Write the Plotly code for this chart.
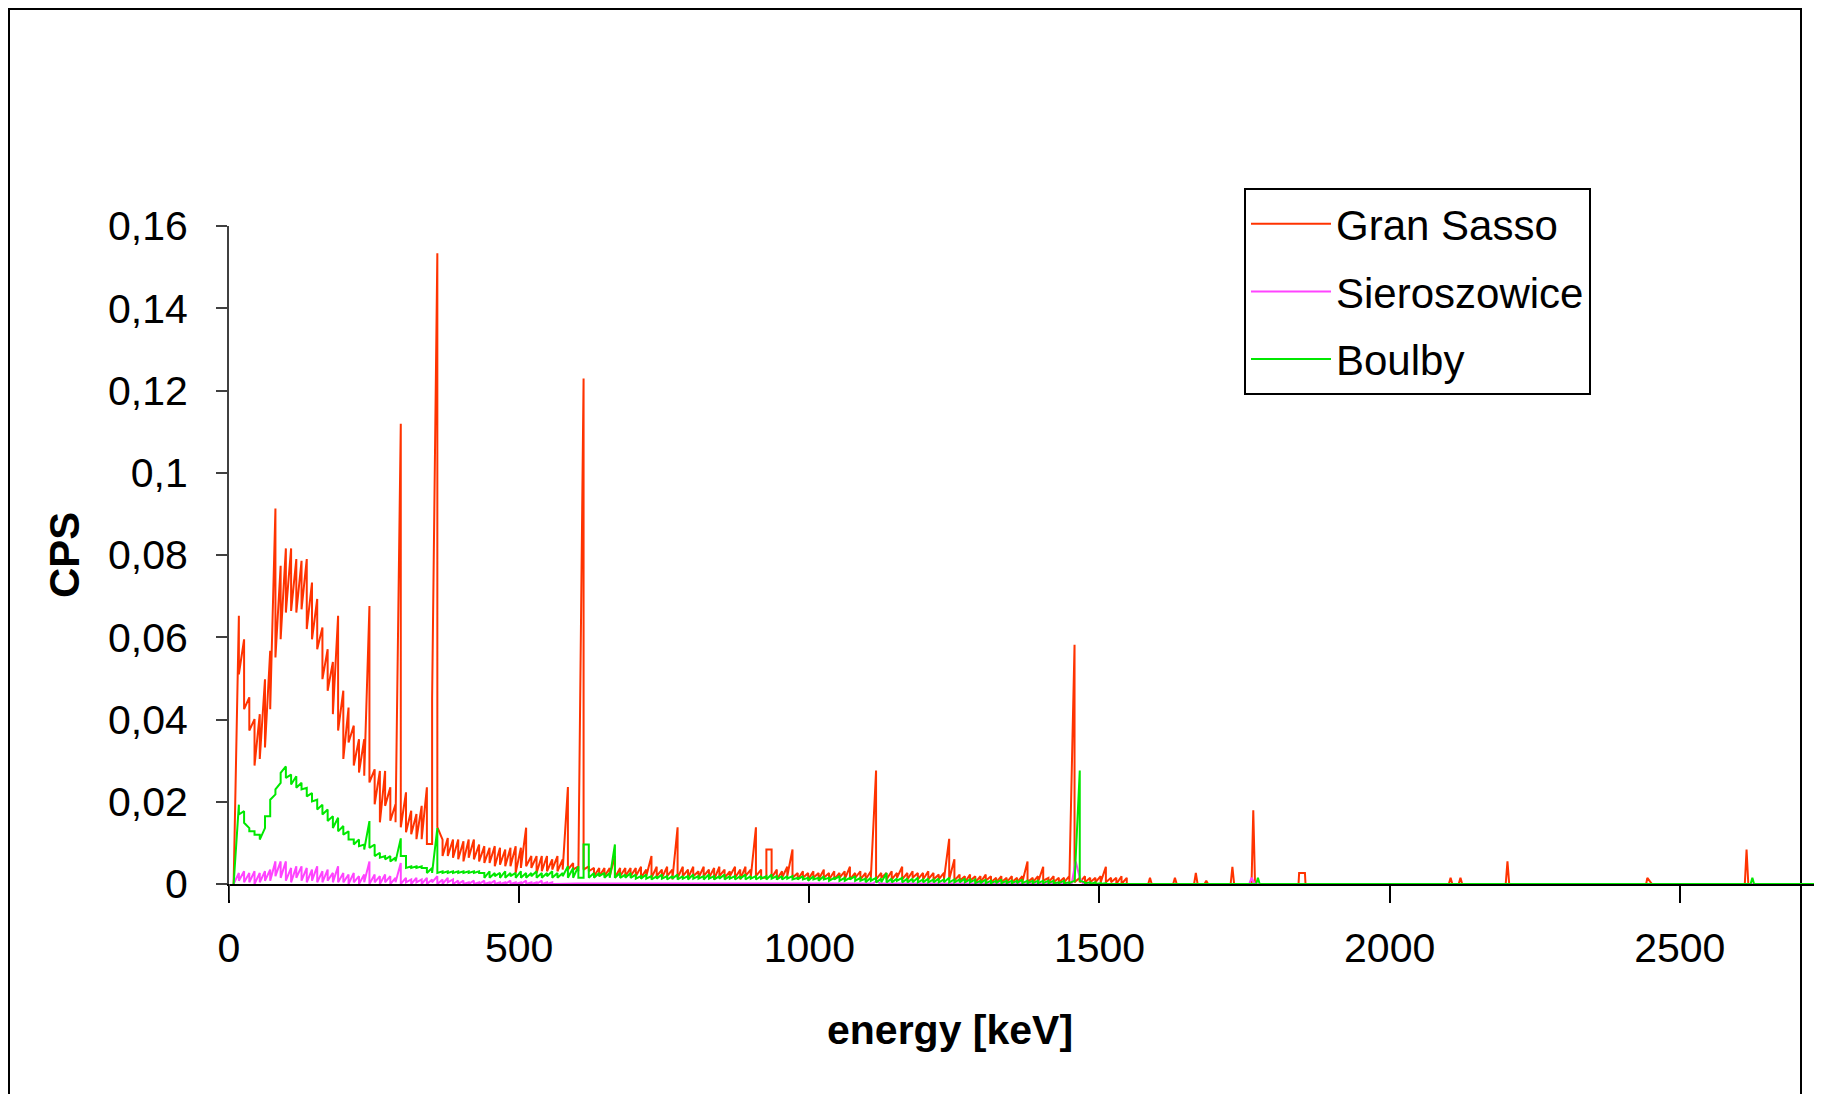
import plotly.graph_objects as go

# ---------------- data ----------------
# Spectra are stored as channel groups: group i sits at energy E_START + i*E_STEP (keV);
# each group holds two successive readings in units of 1e-4 CPS (path order).
E_START = 17.0
E_STEP = 9.0
UNIT = 1e-4

series_names = ["Gran Sasso", "Sieroszowice", "Boulby"]

gran_sasso_groups = [
    (652, 510), (595, 425), (454, 373), (401, 288), (413, 304), (498, 332), (567, 425), (913, 551),
    (774, 595), (816, 660), (816, 664), (790, 660), (786, 668), (790, 620), (733, 595), (693, 571),
    (624, 498), (571, 470), (540, 413), (652, 373), (470, 304), (429, 344), (385, 288), (352, 271),
    (352, 263), (676, 247), (279, 194), (275, 150), (275, 190), (235, 154), (194, 150), (1119, 138),
    (223, 126), (178, 121), (170, 109), (190, 109), (235, 97), (97, 450), (1534, 138), (108, 68),
    (112, 68), (108, 64), (108, 60), (104, 55), (108, 64), (108, 60), (96, 55), (92, 51),
    (88, 51), (92, 43), (88, 47), (84, 43), (88, 43), (92, 27), (88, 39), (137, 43),
    (68, 39), (68, 27), (68, 31), (68, 31), (60, 35), (68, 31), (60, 35), (236, 35),
    (51, 35), (43, 31), (1229, 35), (43, 31), (39, 19), (39, 19), (39, 19), (39, 19),
    (68, 15), (39, 19), (39, 19), (39, 19), (39, 19), (42, 15), (35, 19), (68, 15),
    (42, 19), (35, 15), (42, 19), (35, 11), (138, 15), (42, 19), (35, 15), (42, 19),
    (31, 15), (42, 19), (35, 15), (39, 11), (42, 19), (35, 15), (31, 19), (42, 15),
    (35, 11), (42, 19), (35, 15), (138, 19), (35, 15), (15, 84), (84, 15), (35, 11),
    (31, 15), (42, 19), (84, 15), (27, 11), (31, 15), (27, 11), (31, 15), (27, 11),
    (35, 15), (27, 11), (31, 11), (27, 15), (31, 11), (42, 11), (27, 15), (31, 11),
    (27, 11), (31, 15), (276, 11), (27, 15), (27, 11), (31, 11), (27, 15), (42, 11),
    (27, 11), (31, 15), (27, 11), (27, 11), (31, 11), (27, 11), (23, 11), (27, 11),
    (110, 11), (60, 8), (23, 8), (19, 4), (23, 8), (19, 4), (19, 4), (23, 8),
    (19, 4), (15, 4), (19, 4), (15, 4), (19, 4), (15, 4), (19, 4), (55, 4),
    (15, 4), (19, 4), (42, 8), (15, 4), (19, 4), (15, 4), (15, 4), (19, 4),
    (582, 4), (15, 4), (19, 4), (15, 4), (15, 4), (19, 4), (42, 4), (15, 4),
    (15, 0), (19, 0), (15, 0), (0, 0),
]
gran_sasso_tail_e = [1584, 1587, 1590, 1627, 1630, 1633, 1663, 1666, 1669, 1681, 1684, 1687,
                     1726, 1729, 1732, 1762, 1765, 1768, 1843, 1844, 1854, 1855,
                     2102, 2105, 2108, 2119, 2122, 2125, 2200, 2203, 2206,
                     2442, 2444, 2452, 2612, 2615, 2618, 2760]
gran_sasso_tail_v = [0, 15, 0, 0, 15, 0, 0, 27, 0, 0, 8, 0,
                     0, 42, 0, 0, 179, 0, 0, 27, 27, 0,
                     0, 15, 0, 0, 15, 0, 0, 55, 0,
                     0, 15, 0, 0, 84, 0, 0]

sieroszowice_groups = [
    (27, 8), (31, 4), (27, 4), (31, 0), (27, 4), (31, 8), (35, 8), (55, 19),
    (55, 15), (55, 8), (39, 4), (43, 15), (43, 8), (39, 4), (35, 8), (43, 4),
    (31, 4), (35, 8), (27, 4), (43, 4), (27, 4), (23, 0), (27, 4), (19, 0),
    (23, 4), (55, 0), (23, 4), (19, 0), (23, 4), (19, 0), (15, 4), (51, 0),
    (15, 4), (11, 0), (15, 4), (11, 0), (15, 0), (11, 4), (19, 0), (11, 0),
    (15, 4), (11, 0), (8, 0), (8, 0), (4, 0), (8, 0), (4, 0), (8, 0),
    (4, 0), (8, 0), (4, 0), (4, 0), (8, 0), (4, 0), (4, 0), (8, 0),
    (4, 0), (4, 0), (8, 0), (4, 0), (4, 0),
]
sieroszowice_tail_e = [600, 1110, 1116, 1122, 1452, 1459, 1466, 1472, 1758, 1762, 1768, 2760]
sieroszowice_tail_v = [1, 1, 8, 1, 1, 55, 15, 0, 0, 15, 0, 0]

boulby_groups = [
    (193, 169), (177, 149), (136, 128), (128, 120), (120, 108), (136, 165), (165, 205), (218, 230),
    (246, 270), (286, 258), (266, 242), (262, 234), (246, 230), (234, 213), (221, 201), (205, 181),
    (193, 169), (181, 153), (165, 136), (161, 128), (141, 120), (128, 108), (108, 96), (108, 92),
    (96, 84), (153, 88), (96, 68), (76, 64), (68, 60), (68, 55), (64, 55), (111, 68),
    (68, 39), (43, 39), (43, 39), (43, 39), (39, 27), (39, 27), (136, 27), (31, 27),
    (31, 27), (31, 27), (31, 27), (31, 27), (31, 27), (31, 27), (31, 27), (27, 15),
    (31, 15), (27, 19), (27, 15), (31, 15), (27, 19), (27, 15), (31, 15), (27, 15),
    (27, 19), (31, 15), (27, 15), (27, 19), (31, 15), (27, 15), (27, 19), (43, 15),
    (39, 15), (43, 15), (15, 96), (96, 15), (27, 15), (27, 19), (27, 15), (27, 15),
    (96, 15), (27, 15), (23, 15), (27, 15), (23, 13), (19, 13), (23, 13), (19, 11),
    (19, 13), (23, 13), (19, 11), (19, 13), (23, 11), (19, 13), (19, 11), (23, 13),
    (19, 13), (19, 11), (23, 13), (19, 11), (19, 13), (23, 11), (19, 13), (19, 11),
    (19, 13), (23, 11), (19, 13), (19, 11), (19, 13), (19, 11), (23, 13), (19, 11),
    (19, 11), (19, 13), (19, 11), (15, 11), (19, 11), (15, 8), (19, 11), (15, 8),
    (19, 11), (15, 8), (15, 11), (19, 8), (15, 8), (15, 11), (19, 8), (15, 8),
    (13, 4), (15, 8), (15, 4), (13, 4), (27, 4), (13, 4), (13, 8), (15, 4),
    (13, 4), (13, 4), (15, 4), (11, 4), (13, 4), (11, 4), (13, 4), (11, 4),
    (15, 4), (11, 4), (11, 4), (13, 4), (11, 4), (11, 2), (8, 2), (11, 2),
    (8, 2), (8, 2), (11, 2), (8, 2), (8, 2), (8, 2), (11, 2), (8, 2),
    (8, 2), (8, 2), (8, 2), (8, 2), (8, 2), (4, 2), (8, 2), (4, 2),
    (8, 4), (276, 8), (4, 2), (4, 0), (4, 0), (2, 0), (2, 0), (0, 0),
]
boulby_tail_e = [1770, 1773, 1776, 2622, 2625, 2628, 2760]
boulby_tail_v = [0, 15, 0, 0, 15, 0, 0]

series_colors = ["#FF3300", "#FF44FF", "#00E800"]

x_ticks = [0, 500, 1000, 1500, 2000, 2500]
y_ticks = [0, 0.02, 0.04, 0.06, 0.08, 0.1, 0.12, 0.14, 0.16]
y_tick_labels = ["0", "0,02", "0,04", "0,06", "0,08", "0,1", "0,12", "0,14", "0,16"]


def build(groups, tail_e, tail_v):
    xs, ys = [8.0], [0.0]
    for i, (a, b) in enumerate(groups):
        e = E_START + i * E_STEP
        xs += [e, e]
        ys += [a * UNIT, b * UNIT]
    xs += list(tail_e)
    ys += [v * UNIT for v in tail_v]
    return xs, ys


spectra = [
    (gran_sasso_groups, gran_sasso_tail_e, gran_sasso_tail_v),
    (sieroszowice_groups, sieroszowice_tail_e, sieroszowice_tail_v),
    (boulby_groups, boulby_tail_e, boulby_tail_v),
]

FONT = "Liberation Sans, Arial, sans-serif"

fig = go.Figure()
for name, color, (g, te, tv) in zip(series_names, series_colors, spectra):
    xs, ys = build(g, te, tv)
    fig.add_trace(go.Scatter(x=xs, y=ys, mode="lines", name=name, legendgroup=name,
                             line=dict(color=color, width=2)))

# the page puts the figure 8 px in from the top-left corner
OFF = 8
W, H = 1822 - OFF, 1094 - OFF
L, R, T, B = 229 - OFF, 0, 226 - OFF, 210
PW, PH = W - L - R, H - T - B


def px(xp):
    return (xp - OFF - L) / PW


def py(yp):
    return (H - B - (yp - OFF)) / PH


fig.update_layout(
    width=W, height=H,
    margin=dict(l=L, r=R, t=T, b=B, pad=0),
    paper_bgcolor="white", plot_bgcolor="white",
    font=dict(family=FONT, color="black", size=40),
    showlegend=True,
    legend=dict(x=px(1244), y=py(188), xanchor="left", yanchor="top",
                bordercolor="black", borderwidth=2, bgcolor="white",
                font=dict(family=FONT, size=42, color="black"),
                itemwidth=80, tracegroupgap=10, traceorder="grouped"),
    xaxis=dict(range=[0, 2745], showgrid=False, zeroline=False,
               showline=True, linecolor="black", linewidth=2,
               ticks="outside", ticklen=17, tickwidth=2, tickcolor="black",
               tickvals=x_ticks, ticktext=[str(v) for v in x_ticks],
               tickfont=dict(family=FONT, size=41), ticklabelstandoff=10),
    yaxis=dict(range=[0, 0.16], showgrid=False, zeroline=False,
               showline=True, linecolor="#404040", linewidth=2,
               ticks="outside", ticklen=11, tickwidth=2, tickcolor="#404040",
               tickvals=y_ticks, ticktext=y_tick_labels,
               tickfont=dict(family=FONT, size=41), ticklabelstandoff=20),
    annotations=[
        dict(text="<b>CPS</b>", xref="paper", yref="paper", x=px(64), y=py(555),
             xanchor="center", yanchor="middle", showarrow=False, textangle=-90,
             font=dict(family=FONT, size=42, color="black")),
        dict(text="<b>energy [keV]</b>", xref="paper", yref="paper", x=px(950), y=py(1030),
             xanchor="center", yanchor="middle", showarrow=False,
             font=dict(family=FONT, size=41, color="black")),
    ],
    shapes=[
        dict(type="rect", xref="paper", yref="paper", x0=px(9), x1=px(1801), y0=py(1110), y1=py(9),
             line=dict(color="black", width=2), fillcolor="rgba(0,0,0,0)", layer="below"),
        dict(type="line", xref="x", yref="paper", x0=0, x1=0, y0=0, y1=py(900),
             line=dict(color="#404040", width=2)),
    ],
)

fig.write_html("out.html")
